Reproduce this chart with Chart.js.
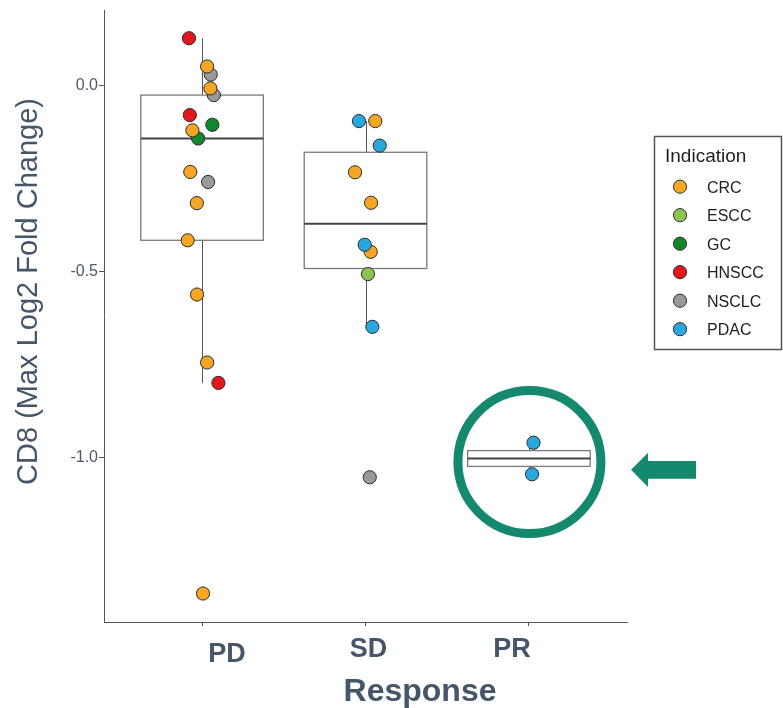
<!DOCTYPE html>
<html>
<head>
<meta charset="utf-8">
<script src="https://cdn.jsdelivr.net/npm/chart.js@4.4.1/dist/chart.umd.min.js"></script>
<style>
  html, body { margin: 0; padding: 0; background: #fff; }
  #wrap { width: 783px; height: 708px; position: relative; }
</style>
</head>
<body>
<div id="wrap"><canvas id="ch-cd8"></canvas></div>
<script>
// categories on the x axis and the colour key
const categories = ['PD', 'SD', 'PR'];
const indications = ['CRC', 'ESCC', 'GC', 'HNSCC', 'NSCLC', 'PDAC'];
const indicationColors = ['#F6A623', '#8DC450', '#12882E', '#E3181F', '#999999', '#29A8E0'];
const yTicks = [0, -0.5, -1.0];

// PD patients
const pdValues = [0.128, 0.052, 0.030, -0.007, -0.025, -0.079, -0.105, -0.120, -0.142, -0.232, -0.259, -0.316, -0.416, -0.562, -0.745, -0.800, -1.367];
const pdIndication = ['HNSCC', 'CRC', 'NSCLC', 'CRC', 'NSCLC', 'HNSCC', 'GC', 'CRC', 'GC', 'CRC', 'NSCLC', 'CRC', 'CRC', 'CRC', 'CRC', 'HNSCC', 'CRC'];
const pdJitter = [-0.080, 0.031, 0.053, 0.051, 0.072, -0.075, 0.063, -0.059, -0.024, -0.072, 0.037, -0.032, -0.088, -0.031, 0.031, 0.100, 0.006];

// SD patients
const sdValues = [-0.095, -0.095, -0.161, -0.233, -0.315, -0.428, -0.447, -0.507, -0.649, -1.054];
const sdIndication = ['PDAC', 'CRC', 'PDAC', 'CRC', 'CRC', 'PDAC', 'CRC', 'ESCC', 'PDAC', 'NSCLC'];
const sdJitter = [-0.040, 0.060, 0.087, -0.064, 0.034, -0.005, 0.032, 0.015, 0.042, 0.026];

// PR patients
const prValues = [-0.961, -1.046];
const prIndication = ['PDAC', 'PDAC'];
const prJitter = [0.028, 0.019];

const groups = [
  { values: pdValues, ind: pdIndication, jit: pdJitter },
  { values: sdValues, ind: sdIndication, jit: sdJitter },
  { values: prValues, ind: prIndication, jit: prJitter }
];

const FONT = "'Liberation Sans', Arial, sans-serif";
const SLATE = '#45566a';
const drawOrder = { PDAC: 0, CRC: 1, GC: 2, HNSCC: 3, ESCC: 4, NSCLC: 5 };

const datasets = indications.map((name, k) => {
  const pts = [];
  groups.forEach((g, gi) => {
    g.values.forEach((v, i) => {
      if (g.ind[i] === name) pts.push({ x: gi + 1 + g.jit[i], y: v });
    });
  });
  return {
    label: name, data: pts, order: drawOrder[name],
    backgroundColor: indicationColors[k], borderColor: '#2b2b2b', borderWidth: 1,
    pointRadius: 6.6, pointHoverRadius: 6.6
  };
});

function quantile(sorted, p) {
  const h = (sorted.length - 1) * p, lo = Math.floor(h), hi = Math.ceil(h);
  return sorted[lo] + (h - lo) * (sorted[hi] - sorted[lo]);
}

function boxStats(values) {
  const s = values.slice().sort((a, b) => a - b);
  const q1 = quantile(s, 0.25), med = quantile(s, 0.5), q3 = quantile(s, 0.75);
  const iqr = q3 - q1;
  const lo = Math.min(...s.filter(v => v >= q1 - 1.5 * iqr));
  const hi = Math.max(...s.filter(v => v <= q3 + 1.5 * iqr));
  return { q1, med, q3, lo, hi };
}

// box plots, under the points
const boxPlugin = {
  id: 'boxes',
  beforeDatasetsDraw(chart) {
    const { ctx, scales: { x, y } } = chart;
    ctx.save();
    groups.forEach((g, gi) => {
      const st = boxStats(g.values);
      const cx = Math.round(x.getPixelForValue(gi + 1)) + 0.5;
      const l = x.getPixelForValue(gi + 1 - 0.375), r = x.getPixelForValue(gi + 1 + 0.375);
      ctx.strokeStyle = '#555';
      ctx.lineWidth = 1;
      ctx.beginPath();
      ctx.moveTo(cx, y.getPixelForValue(st.q3)); ctx.lineTo(cx, y.getPixelForValue(st.hi));
      ctx.moveTo(cx, y.getPixelForValue(st.q1)); ctx.lineTo(cx, y.getPixelForValue(st.lo));
      ctx.stroke();
      const t = y.getPixelForValue(st.q3), b = y.getPixelForValue(st.q1);
      ctx.fillStyle = '#fff';
      ctx.fillRect(l, t, r - l, b - t);
      ctx.strokeStyle = '#7a7a7a';
      ctx.lineWidth = 1.3;
      ctx.strokeRect(l, t, r - l, b - t);
      ctx.strokeStyle = '#444';
      ctx.lineWidth = 1.8;
      const m = y.getPixelForValue(st.med);
      ctx.beginPath(); ctx.moveTo(l, m); ctx.lineTo(r, m); ctx.stroke();
    });
    ctx.restore();
  }
};

// axis titles, x labels, highlight ring, arrow and legend
const xLabelShift = [25, 3, -17];
const xLabelLift = [0, 5.5, 5.5];

const decorPlugin = {
  id: 'decor',
  afterDraw(chart) {
    const { ctx, scales: { x, y } } = chart;
    ctx.save();
    ctx.fillStyle = SLATE;
    ctx.textAlign = 'center';
    ctx.textBaseline = 'alphabetic';
    ctx.font = 'bold 27px ' + FONT;
    categories.forEach((c, i) => {
      ctx.fillText(c, x.getPixelForValue(i + 1) + xLabelShift[i], 662 - xLabelLift[i]);
    });
    ctx.font = 'bold 32px ' + FONT;
    ctx.fillText('Response', 420, 701);
    ctx.save();
    ctx.translate(37, 291.5);
    ctx.rotate(-Math.PI / 2);
    ctx.font = '29px ' + FONT;
    ctx.fillText('CD8 (Max Log2 Fold Change)', 0, 0);
    ctx.restore();

    // ring round the PR group
    const rx = x.getPixelForValue(3) + 0.5, ry = y.getPixelForValue(-1.013);
    ctx.strokeStyle = '#14896E';
    ctx.lineWidth = 9;
    ctx.beginPath(); ctx.arc(rx, ry, 71.5, 0, Math.PI * 2); ctx.stroke();
    ctx.fillStyle = '#14896E';
    const ay = ry + 7.8;
    ctx.beginPath();
    ctx.moveTo(rx + 101.6, ay);
    ctx.lineTo(rx + 118.6, ay - 17.2);
    ctx.lineTo(rx + 118.6, ay - 8.8);
    ctx.lineTo(rx + 166.6, ay - 8.8);
    ctx.lineTo(rx + 166.6, ay + 8.8);
    ctx.lineTo(rx + 118.6, ay + 8.8);
    ctx.lineTo(rx + 118.6, ay + 17.2);
    ctx.closePath();
    ctx.fill();

    // legend
    ctx.strokeStyle = '#555';
    ctx.lineWidth = 1.5;
    ctx.strokeRect(654.5, 136.5, 127, 213);
    ctx.textAlign = 'left';
    ctx.fillStyle = '#1e1e1e';
    ctx.font = '19px ' + FONT;
    ctx.fillText('Indication', 665, 161.5);
    ctx.font = '16px ' + FONT;
    indications.forEach((name, i) => {
      const by = 192.7 + i * 28.5;
      ctx.beginPath();
      ctx.arc(680, by - 6, 6.6, 0, Math.PI * 2);
      ctx.fillStyle = indicationColors[i];
      ctx.fill();
      ctx.strokeStyle = '#2b2b2b';
      ctx.lineWidth = 1;
      ctx.stroke();
      ctx.fillStyle = '#1e1e1e';
      ctx.fillText(name, 707, by);
    });
    ctx.restore();
  }
};

new Chart(document.getElementById('ch-cd8').getContext('2d'), {
  type: 'scatter',
  data: { datasets },
  options: {
    responsive: true, maintainAspectRatio: false, animation: false, events: [],
    layout: { padding: { top: 8, right: 156, left: 0, bottom: 0 } },
    plugins: { legend: { display: false }, tooltip: { enabled: false } },
    scales: {
      x: {
        type: 'linear', min: 0.4, max: 3.6,
        afterBuildTicks: s => { s.ticks = categories.map((c, i) => ({ value: i + 1 })); },
        afterFit: s => { s.height = 86; },
        grid: { drawOnChartArea: false, drawTicks: true, tickLength: 4, color: '#555' },
        border: { color: '#555', width: 1 },
        ticks: { display: false }
      },
      y: {
        type: 'linear', min: -1.4437, max: 0.2024,
        afterBuildTicks: s => { s.ticks = yTicks.map(v => ({ value: v })); },
        afterFit: s => { s.width = 104; },
        grid: { drawOnChartArea: false, drawTicks: true, tickLength: 5, color: '#555' },
        border: { color: '#555', width: 1 },
        ticks: { padding: 1, color: '#4d5a66', font: { family: FONT, size: 16 }, callback: v => v.toFixed(1) }
      }
    }
  },
  plugins: [boxPlugin, decorPlugin]
});
</script>
</body>
</html>
